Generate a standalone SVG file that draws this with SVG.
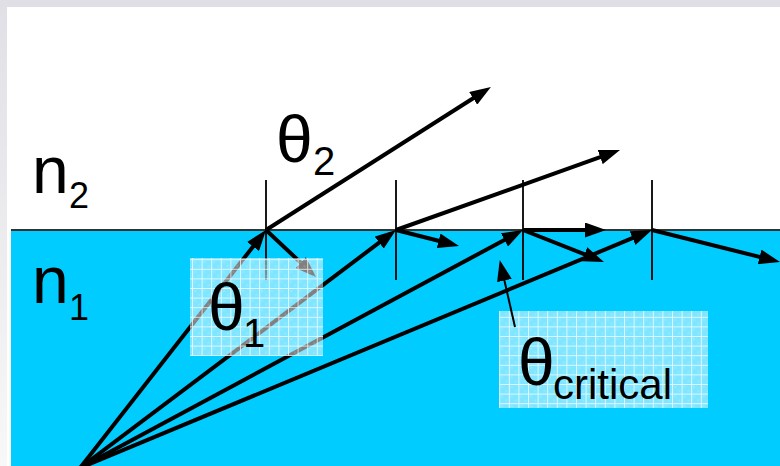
<svg xmlns="http://www.w3.org/2000/svg" width="780" height="466" viewBox="0 0 780 466">
<defs>
<style>
.txt{font-family:"Liberation Sans",Arial,sans-serif;fill:#000}
.ray{stroke:#000;stroke-width:4;fill:none}
.normal{stroke:#000;stroke-width:1.8;fill:none}
.ptr{stroke:#000;stroke-width:2;fill:none}
</style>
<marker id="ah" viewBox="0 0 21 15" refX="14" refY="7.5" markerWidth="21" markerHeight="15" markerUnits="userSpaceOnUse" orient="auto">
<path d="M0,0 L21,7.5 L0,15 Z" fill="#000"/>
</marker>
<linearGradient id="lg" x1="0" y1="0" x2="0" y2="1">
<stop offset="0" stop-color="#e0e0e6"/>
<stop offset="1" stop-color="#f8f8f8"/>
</linearGradient>
<pattern id="grid" width="9.6" height="9.6" patternUnits="userSpaceOnUse">
<rect width="9.6" height="9.6" fill="#fff" fill-opacity="0.5"/>
<rect width="2" height="2" x="2" y="2" fill="#fff" fill-opacity="0.15"/>
<rect width="2" height="2" x="6" y="6" fill="#fff" fill-opacity="0.15"/>
<path d="M0,0.5 H9.6 M0.5,0 V9.6" stroke="#fff" stroke-opacity="0.75" stroke-width="1"/>
</pattern>
</defs>
<rect width="780" height="466" fill="#fff"/>
<rect x="0" y="0" width="780" height="7" fill="#e0dfe5"/>
<rect x="0" y="7" width="7" height="459" fill="url(#lg)"/>
<rect x="11" y="230" width="769" height="236" fill="#00ccff"/>
<line x1="11" y1="230" x2="780" y2="230" stroke="#333" stroke-width="2"/>

<g id="normals">
<line class="normal" x1="266" y1="180" x2="266" y2="280"/>
<line class="normal" x1="396" y1="180" x2="396" y2="280"/>
<line class="normal" x1="523" y1="180" x2="523" y2="280"/>
<line class="normal" x1="652" y1="180" x2="652" y2="280"/>
</g>

<g id="connectors">
<line class="ray" x1="80" y1="468" x2="261.7" y2="235.5" marker-end="url(#ah)"/>
<line class="ray" x1="80" y1="468" x2="390.4" y2="234.2" marker-end="url(#ah)"/>
<line class="ray" x1="80" y1="468" x2="516.8" y2="233.3" marker-end="url(#ah)"/>
<line class="ray" x1="80" y1="468" x2="645.5" y2="232.7" marker-end="url(#ah)"/>
<line class="ray" x1="266" y1="230" x2="485" y2="90.8" marker-end="url(#ah)"/>
<line class="ray" x1="396" y1="230" x2="613.4" y2="152.4" marker-end="url(#ah)"/>
<line class="ray" x1="523" y1="230" x2="599" y2="230" marker-end="url(#ah)"/>
<line class="ray" x1="266" y1="230" x2="310.9" y2="272.2" marker-end="url(#ah)"/>
<line class="ray" x1="396" y1="230" x2="452.2" y2="244.3" marker-end="url(#ah)"/>
<line class="ray" x1="523" y1="230" x2="597.5" y2="259.4" marker-end="url(#ah)"/>
<line class="ray" x1="652" y1="230" x2="773.2" y2="260.3" marker-end="url(#ah)"/>
</g>

<g id="label-n2">
<text class="txt" x="32" y="193" font-size="66">n</text>
<text class="txt" x="69" y="208" font-size="36">2</text>
</g>
<g id="label-n1">
<text class="txt" x="32" y="303" font-size="66">n</text>
<text class="txt" x="69" y="320" font-size="36">1</text>
</g>
<g id="label-theta2">
<text class="txt" x="276" y="162" font-size="66">θ</text>
<text class="txt" x="313" y="175" font-size="40">2</text>
</g>
<g id="label-theta1">
<rect x="190" y="258" width="133" height="98" fill="url(#grid)"/>
<text class="txt" x="208" y="330" font-size="66">θ</text>
<text class="txt" x="243" y="347" font-size="40">1</text>
</g>
<g id="label-thetacritical">
<rect x="499" y="311" width="209" height="97" fill="url(#grid)"/>
<line class="ptr" x1="515" y1="327" x2="501.3" y2="266.8" marker-end="url(#ah)"/>
<text class="txt" x="518" y="385" font-size="66">θ</text>
<text class="txt" x="553" y="399" font-size="42">critical</text>
</g>
</svg>
